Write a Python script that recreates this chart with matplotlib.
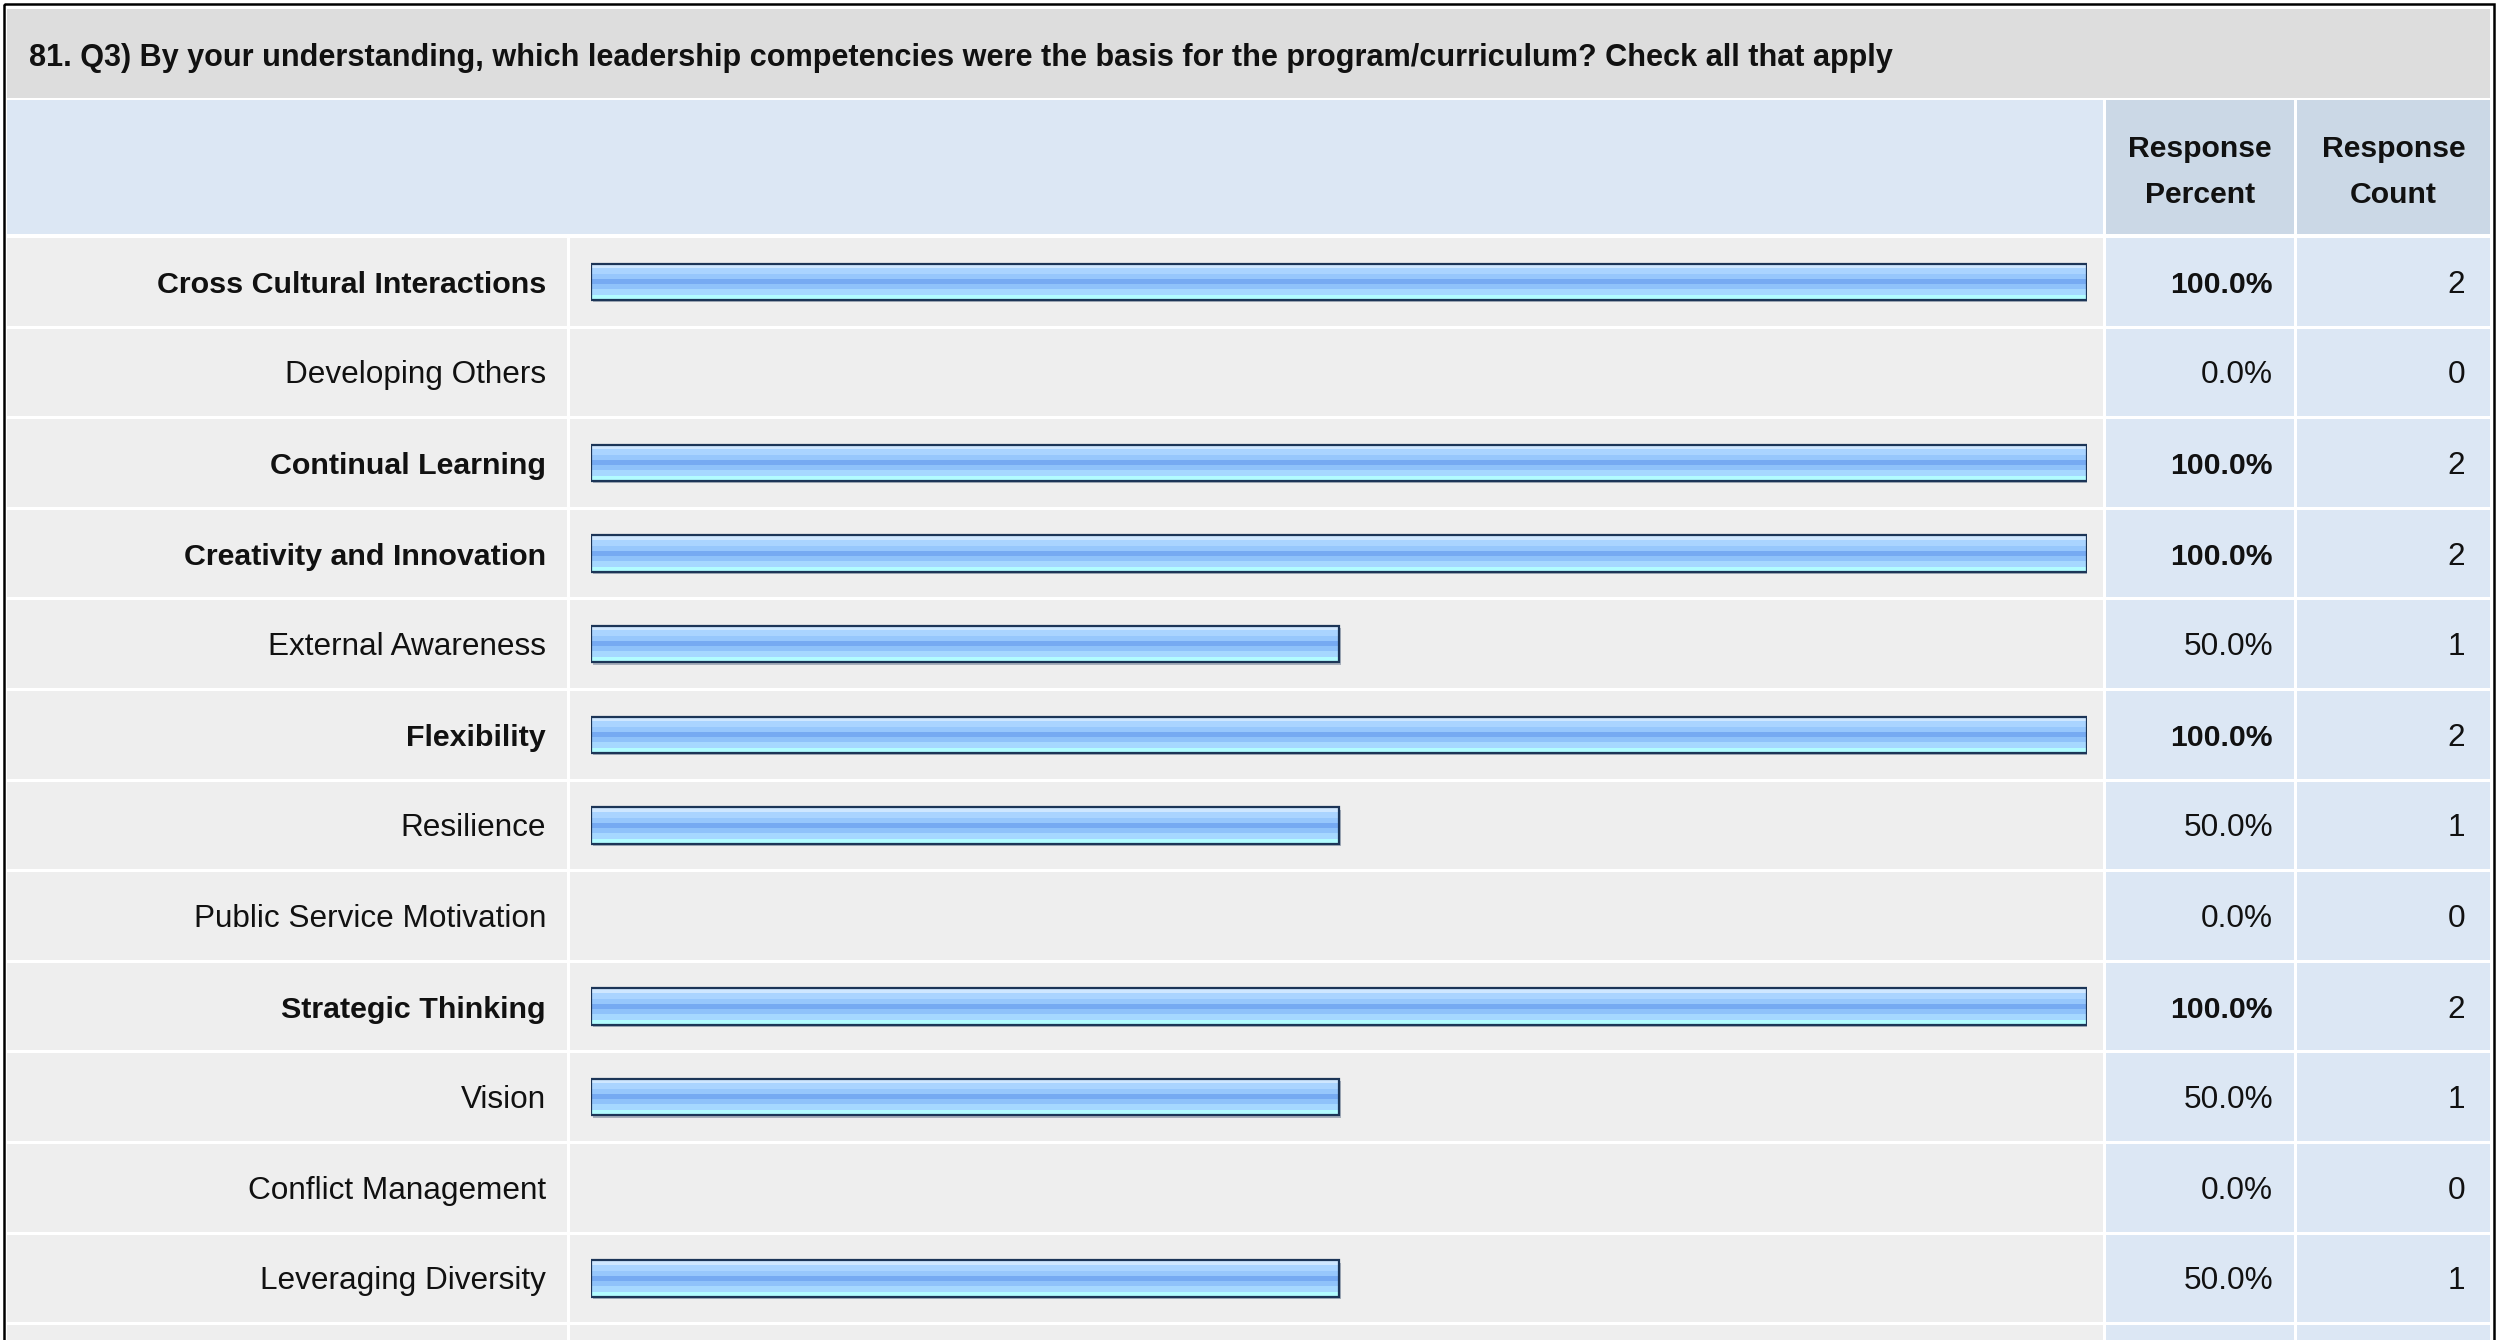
import numpy as np
import matplotlib
matplotlib.use("Agg")
import matplotlib.pyplot as plt
from matplotlib.patches import Rectangle
from matplotlib.colors import to_rgb

plt.rcParams['font.family'] = ['Liberation Sans', 'DejaVu Sans']

title = ("81. Q3) By your understanding, which leadership competencies were the basis "
         "for the program/curriculum? Check all that apply")
labels = ["Cross Cultural Interactions", "Developing Others", "Continual Learning",
          "Creativity and Innovation", "External Awareness", "Flexibility", "Resilience",
          "Public Service Motivation", "Strategic Thinking", "Vision",
          "Conflict Management", "Leveraging Diversity"]
percents = [100.0, 0.0, 100.0, 100.0, 50.0, 100.0, 50.0, 0.0, 100.0, 50.0, 0.0, 50.0]
counts = [2, 0, 2, 2, 1, 2, 1, 0, 2, 1, 0, 1]
headers = ["Response\nPercent", "Response\nCount"]

W, H = 2517, 1340
fig = plt.figure(figsize=(W / 100, H / 100), dpi=100)
bg = fig.add_axes([0, 0, 1, 1])
bg.set_xlim(0, W)
bg.set_ylim(H, 0)
bg.axis('off')

# layout in pixels
x_in0, x_in1 = 7, 2490
col_lab = (7, 567)
col_bar = (570, 2103)
col_pct = (2106, 2294)
col_cnt = (2297, 2490)
row_top, row_h, gap = 236.5, 90.6, 3
fs_bold, fs_norm = 21.7, 22.7

def box(x0, y0, x1, y1, color, **kw):
    bg.add_patch(Rectangle((x0, y0), x1 - x0, y1 - y0, facecolor=color,
                           edgecolor='none', **kw))

# outer frame
box(0, 0, 2494, H + 10, 'white')
bg.add_patch(Rectangle((3.5, 3.5), 2490, H + 20, facecolor='none',
                       edgecolor='black', linewidth=1.8))

# title band
box(x_in0, 9, x_in1, 98, '#DDDDDD')
bg.text(29, 58, title, fontsize=22.1, fontweight='bold', ha='left', va='center',
        color='#111111')

# header band
box(x_in0, 100, 2103, 234, '#DCE7F4')
for (c0, c1), head in zip([col_pct, col_cnt], headers):
    box(c0, 100, c1, 234, '#CBD8E6')
    bg.text((c0 + c1) / 2, 172, head, fontsize=fs_bold, fontweight='bold', ha='center',
            va='center', linespacing=1.8, color='#111111')

# row backgrounds (one extra row partly visible at the bottom)
for i in range(len(labels) + 1):
    y0 = row_top + i * row_h + gap / 2
    y1 = y0 + row_h - gap
    box(col_lab[0], y0, col_lab[1], y1, '#EEEEEE')
    box(col_bar[0], y0, col_bar[1], y1, '#EEEEEE')
    box(col_pct[0], y0, col_pct[1], y1, '#DCE7F4')
    box(col_cnt[0], y0, col_cnt[1], y1, '#DCE7F4')

# text columns
for i, (lab, p, c) in enumerate(zip(labels, percents, counts)):
    yc = row_top + (i + 0.5) * row_h + 3
    bold = p >= 100
    wt = 'bold' if bold else 'normal'
    f = fs_bold if bold else fs_norm
    bg.text(546, yc, lab, fontsize=21.9 if bold else f, fontweight=wt, ha='right',
            va='center', color='#111111')
    bg.text(2273, yc, f"{p:.1f}%", fontsize=f, fontweight=wt, ha='right',
            va='center', color='#111111')
    bg.text(2465, yc, str(c), fontsize=fs_norm, ha='right', va='center', color='#111111')

# bar axes: 0..100 maps to the bar track
bx0, bx1 = 591, 2087
ax = fig.add_axes([bx0 / W, 0, (bx1 - bx0) / W, 1 - row_top / H])
ax.axis('off')
ypos = np.arange(len(labels))
bh = 0.40
bars = ax.barh(ypos, percents, height=bh, facecolor='none', edgecolor='#1C3557',
               linewidth=1.6, zorder=3)

stripes = ['#CFE7FF', '#AAD4FF', '#97C7FC', '#76AAF2', '#8FC2FA', '#A6D8FF', '#B2FCFF']
grad = np.array([to_rgb(s) for s in stripes])[:, None, :]
for b, p, y in zip(bars, percents, ypos):
    if p <= 0:
        b.set_visible(False)
        continue
    ax.barh(y + 0.025, p, left=0.12, height=bh, color='#A8B0BC', zorder=1)
    im = ax.imshow(grad, extent=(0, p, y + bh / 2, y - bh / 2), aspect='auto',
                   interpolation='nearest', zorder=2)
    im.set_clip_path(b)

ax.set_xlim(0, 100)
ax.set_ylim(-0.5 + (H - row_top) / row_h, -0.5)

fig.savefig("out.png", dpi=100)
